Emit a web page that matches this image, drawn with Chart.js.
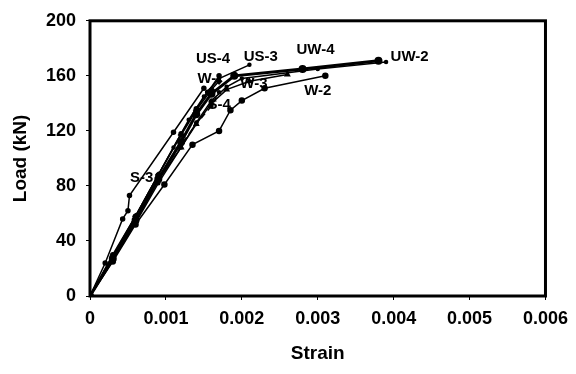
<!DOCTYPE html>
<html>
<head>
<meta charset="utf-8">
<script src="https://cdn.jsdelivr.net/npm/chart.js@4/dist/chart.umd.min.js"></script>
<style>
  body { margin: 0; background: #fff; }
  #wrap { width: 576px; height: 374px; }
</style>
</head>
<body>
<div id="wrap"><canvas id="strainChart"></canvas></div>
<script>
// tick values
const xTicks = [0, 0.001, 0.002, 0.003, 0.004, 0.005, 0.006];
const yTicks = [0, 40, 80, 120, 160, 200];

// load-strain curves (strain, load kN)
const s3Strain  = [0, 0.0002, 0.00043, 0.0005, 0.00052, 0.0011, 0.0015];
const s3Load    = [0, 24, 56, 62, 73, 119, 151];
const us4Strain = [0, 0.0003, 0.0006, 0.0009, 0.0012, 0.0014, 0.00155, 0.0017];
const us4Load   = [0, 30, 58, 88, 118, 136, 148, 160];
const us3Strain = [0, 0.0003, 0.0006, 0.0009, 0.0011, 0.0013, 0.0015, 0.0017, 0.0021];
const us3Load   = [0, 28, 58, 88, 108, 128, 145, 158, 168];
const uw4Strain = [0, 0.0003, 0.0006, 0.0009, 0.0012, 0.0014, 0.0016, 0.0019, 0.0028, 0.0038];
const uw4Load   = [0, 27, 55, 85, 112, 132, 147, 160, 165, 171];
const uw2Strain = [0, 0.0003, 0.0006, 0.0009, 0.0012, 0.0014, 0.0016, 0.0018, 0.002, 0.003, 0.0039];
const uw2Load   = [0, 26, 53, 82, 108, 126, 142, 152, 158, 165, 170];
const w4Strain  = [0, 0.0003, 0.0006, 0.0009, 0.0012, 0.0014, 0.0016, 0.0017];
const w4Load    = [0, 29, 58, 88, 117, 135, 150, 156];
const w3Strain  = [0, 0.0003, 0.0006, 0.0009, 0.0012, 0.0014, 0.0016, 0.0018, 0.0021, 0.0026];
const w3Load    = [0, 26, 55, 84, 108, 125, 140, 150, 156, 161];
const w2Strain  = [0, 0.0003, 0.0006, 0.00098, 0.00135, 0.0017, 0.00185, 0.002, 0.0023, 0.0031];
const w2Load    = [0, 25, 52, 81, 110, 120, 135, 142, 151, 160];
const s4Strain  = [0, 0.0003, 0.0006, 0.0009, 0.0012, 0.0014, 0.0016, 0.0017];
const s4Load    = [0, 27, 57, 86, 110, 125, 138, 148];

// curve labels written on the plot: [text, strain, load]
const curveLabels = [
    ['US-4', 0.00162, 172],
    ['US-3', 0.00225, 174],
    ['UW-4', 0.00297, 179],
    ['UW-2', 0.00421, 174],
    ['W-',   0.00154, 158],
    ['W-3',  0.00216, 154],
    ['W-2',  0.0030, 149],
    ['S-4',  0.0017, 139],
    ['S-3',  0.00068, 86]
];

function pts(xs, ys) {
    return xs.map((x, i) => ({ x: x, y: ys[i] }));
}

function series(label, xs, ys, extra) {
    return Object.assign({
        label: label,
        data: pts(xs, ys),
        borderColor: '#000',
        backgroundColor: '#000',
        borderWidth: 1.5,
        pointRadius: 2,
        pointStyle: 'circle',
        showLine: true,
        tension: 0
    }, extra || {});
}

// draws the frame around the plot and the curve names
const framePlugin = {
    id: 'frame',
    afterDatasetsDraw(chart) {
        const ctx = chart.ctx;
        const a = chart.chartArea;
        const xs = chart.scales.x;
        const ys = chart.scales.y;
        ctx.save();
        ctx.strokeStyle = '#000';
        ctx.lineWidth = 3;
        ctx.strokeRect(a.left, a.top, a.right - a.left, a.bottom - a.top);
        ctx.fillStyle = '#000';
        ctx.font = 'bold 15px "Liberation Sans", Arial, sans-serif';
        ctx.textAlign = 'center';
        ctx.textBaseline = 'middle';
        curveLabels.forEach(l => {
            ctx.fillText(l[0], xs.getPixelForValue(l[1]), ys.getPixelForValue(l[2]));
        });
        ctx.restore();
    }
};

const tickFont = { family: '"Liberation Sans", Arial, sans-serif', size: 18, weight: 'bold' };
const titleFont = { family: '"Liberation Sans", Arial, sans-serif', size: 19, weight: 'bold' };

new Chart(document.getElementById('strainChart'), {
    type: 'scatter',
    data: {
        datasets: [
            series('S-3', s3Strain, s3Load),
            series('US-4', us4Strain, us4Load),
            series('US-3', us3Strain, us3Load, { pointRadius: 1.5 }),
            series('UW-4', uw4Strain, uw4Load, { borderWidth: 3, pointRadius: 2.5 }),
            series('UW-2', uw2Strain, uw2Load, { pointRadius: 1.5 }),
            series('W-4', w4Strain, w4Load, { pointStyle: 'rectRot', pointRadius: 2.5 }),
            series('W-3', w3Strain, w3Load, { pointStyle: 'triangle', pointRadius: 2.5 }),
            series('W-2', w2Strain, w2Load, { pointRadius: 2.5 }),
            series('S-4', s4Strain, s4Load, { borderDash: [6, 4], pointRadius: 1.5 })
        ]
    },
    options: {
        responsive: true,
        maintainAspectRatio: false,
        animation: false,
        layout: { padding: { top: 16, right: 27, left: 0, bottom: 0 } },
        plugins: {
            legend: { display: false },
            tooltip: { enabled: false }
        },
        scales: {
            x: {
                type: 'linear',
                min: 0,
                max: 0.006,
                afterBuildTicks: s => { s.ticks = xTicks.map(v => ({ value: v })); },
                afterFit: s => { s.height = 78; },
                grid: { drawOnChartArea: false, tickLength: 4, color: '#000' },
                border: { display: false },
                ticks: { color: '#000', font: tickFont, padding: 8, maxRotation: 0,
                    callback: v => v === 0 ? '0' : v.toFixed(3) },
                title: { display: true, text: 'Strain', color: '#000', font: titleFont, padding: { top: 4, bottom: 9 } }
            },
            y: {
                min: 0,
                max: 200,
                afterBuildTicks: s => { s.ticks = yTicks.map(v => ({ value: v })); },
                afterFit: s => { s.width = 90; },
                grid: { drawOnChartArea: false, tickLength: 4, color: '#000' },
                border: { display: false },
                ticks: { color: '#000', font: tickFont, padding: 10 },
                title: { display: true, text: 'Load (kN)', color: '#000', font: titleFont, padding: { top: 9, bottom: 0 } }
            }
        }
    },
    plugins: [framePlugin]
});
</script>
</body>
</html>
